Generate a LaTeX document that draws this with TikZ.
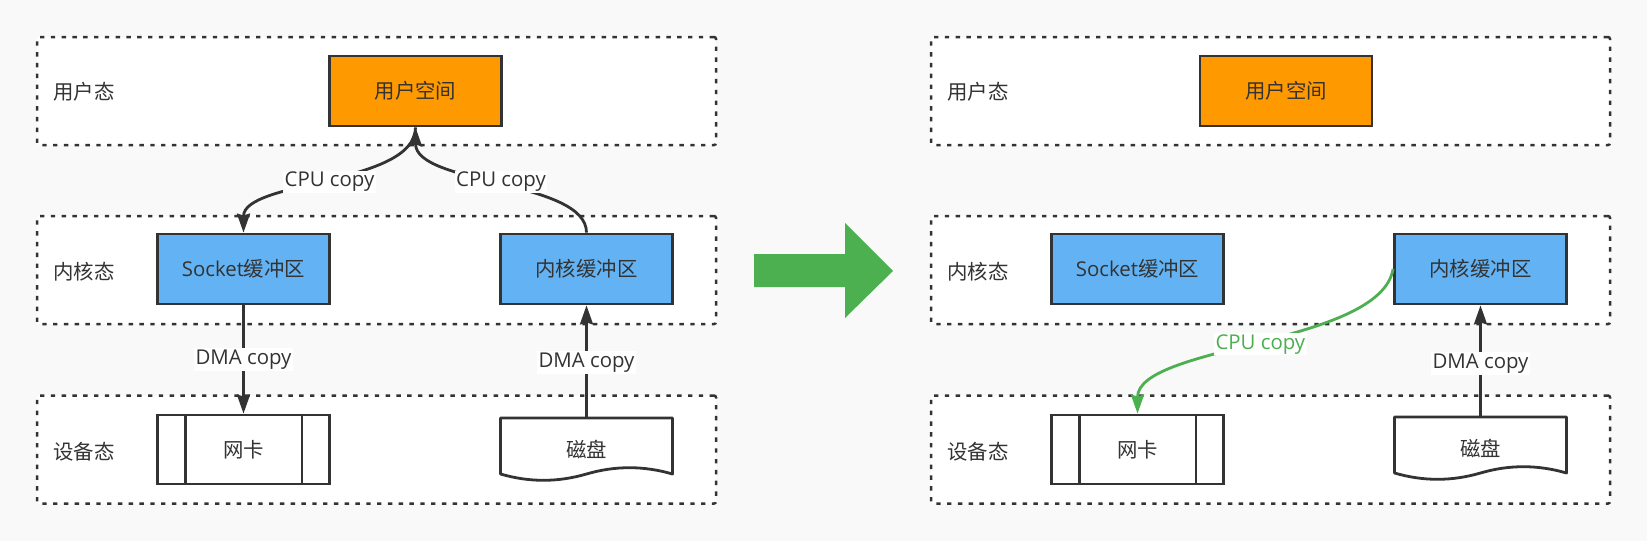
\documentclass[tikz,border=0pt]{standalone}
\usepackage{fontspec}
\setmainfont{Open Sans}
\newfontfamily\cjk{Noto Sans CJK SC}
\usetikzlibrary{arrows.meta}
\definecolor{bgc}{HTML}{F9F9F9}
\definecolor{ink}{HTML}{333333}
\definecolor{orangeF}{HTML}{FF9900}
\definecolor{blueF}{HTML}{63B3F4}
\definecolor{greenA}{HTML}{4CAF50}
\newcommand\diskpath[2]{%
  \draw[draw=ink, line width=2.8pt, fill=white, line join=round, shift={(#1,#2)}]
    (0,0) -- (172,0) -- (172,56)
    .. controls (143,47.6) and (114.7,47.6) .. (86,56)
    .. controls (57.3,64.4) and (28.7,64.4) .. (0,56) -- cycle;}
\begin{document}
\begin{tikzpicture}[x=1pt,y=-1pt,
  font=\fontsize{20.4}{24}\selectfont,
  container/.style={draw=ink, fill=white, line width=2.5pt, dash pattern=on 4.4pt off 6.4pt,
    rounded corners=2pt, minimum width=679pt, minimum height=108pt, inner sep=0pt},
  box/.style={draw=ink, line width=2.8pt, minimum width=172pt, minimum height=70pt,
    inner sep=0pt, text=ink, font=\fontsize{20.4}{24}\selectfont\cjk},
  userbox/.style={box, fill=orangeF},
  kbox/.style={box, fill=blueF},
  devbox/.style={box, fill=white, minimum height=69pt},
  diskbox/.style={minimum width=172pt, minimum height=63pt, inner sep=0pt, text=ink,
    font=\fontsize{20.4}{24}\selectfont\cjk},
  layer/.style={anchor=west, inner sep=0pt, text=ink, font=\fontsize{20.4}{24}\selectfont\cjk},
  conn/.style={draw=ink, line width=2.8pt, -{Stealth[length=19pt,width=13pt,inset=2pt]}},
  lbl/.style={fill=white, inner sep=1.5pt, text=ink},
  sideline/.style={draw=ink, line width=2.8pt}
]
\useasboundingbox (0,0) rectangle (1647,541);
\fill[bgc] (0,0) rectangle (1647,541);

% ---------- left panel ----------
\node[container] (topL) at (376.5,91) {};
\node[container] (midL) at (376.5,270) {};
\node[container] (botL) at (376.5,449.5) {};
\node[layer] (lu1) at (53,92) {用户态};
\node[layer] (lk1) at (53,272) {内核态};
\node[layer] (ld1) at (53,452) {设备态};

\node[userbox] (user) at (415.5,91) {用户空间};
\node[kbox] (sock) at (243.5,269) {{\fontspec{Open Sans}Socket}缓冲区};
\node[kbox] (kern) at (586.5,269) {内核缓冲区};
\node[devbox] (nic) at (243.5,449.5) {网卡};
\draw[sideline] ([xshift=29pt]nic.north west) -- ([xshift=29pt]nic.south west);
\draw[sideline] ([xshift=-29pt]nic.north east) -- ([xshift=-29pt]nic.south east);
\diskpath{500.5}{418}
\node[diskbox] (disk) at (586.5,449.5) {磁盘};

\draw[conn] (user.south) .. controls (415.5,185) and (243.5,180) .. node[lbl] {CPU copy} (sock.north);
\draw[conn] (kern.north) .. controls (586.5,180) and (415.5,185) .. node[lbl] {CPU copy} (user.south);
\draw[conn] (sock.south) -- node[lbl] {DMA copy} (nic.north);
\draw[conn] (disk.north) -- node[lbl, pos=0.49] {DMA copy} (kern.south);

% ---------- big arrow ----------
\fill[greenA] (754,254) -- (845,254) -- (845,223) -- (893,271) -- (845,318) -- (845,287) -- (754,287) -- cycle;

% ---------- right panel ----------
\node[container] (topR) at (1270.5,91) {};
\node[container] (midR) at (1270.5,270) {};
\node[container] (botR) at (1270.5,449.5) {};
\node[layer] (lu2) at (947,92) {用户态};
\node[layer] (lk2) at (947,272) {内核态};
\node[layer] (ld2) at (947,452) {设备态};

\node[userbox] (user2) at (1286,91) {用户空间};
\node[kbox] (sock2) at (1137.5,269) {{\fontspec{Open Sans}Socket}缓冲区};
\node[kbox] (kern2) at (1480.5,269) {内核缓冲区};
\node[devbox] (nic2) at (1137.5,449.5) {网卡};
\draw[sideline] ([xshift=29pt]nic2.north west) -- ([xshift=29pt]nic2.south west);
\draw[sideline] ([xshift=-29pt]nic2.north east) -- ([xshift=-29pt]nic2.south east);
\diskpath{1394.5}{417}
\node[diskbox] (disk2) at (1480.5,448.5) {磁盘};

\draw[conn] (disk2.north) -- node[lbl, pos=0.48] {DMA copy} (kern2.south);
\draw[conn, draw=greenA] (kern2.west) .. controls (1380,345) and (1137.5,345) .. node[lbl, text=greenA] {CPU copy} (nic2.north);
\end{tikzpicture}
\end{document}
